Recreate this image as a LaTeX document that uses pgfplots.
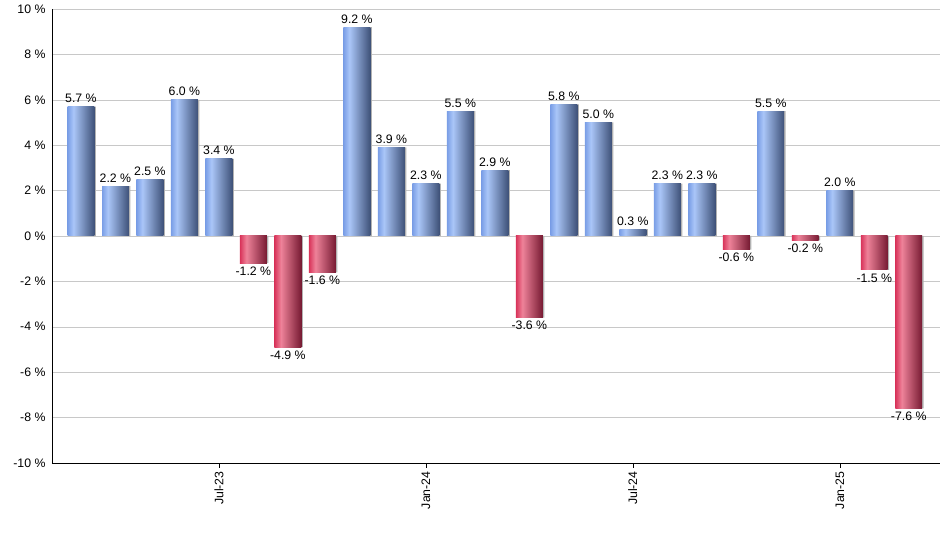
\documentclass[border=0pt]{standalone}
\usepackage{fontspec}
\setmainfont{Liberation Sans}
\usepackage{pgfplots}
\usepackage{pgfplotstable}
\pgfplotsset{compat=1.18}

\definecolor{bl1}{HTML}{7A9EE6}
\definecolor{bl2}{HTML}{AAC6F8}
\definecolor{bl3}{HTML}{3E5178}
\definecolor{rd1}{HTML}{D8345A}
\definecolor{rd2}{HTML}{EE8299}
\definecolor{rd3}{HTML}{761A32}
\definecolor{gridgray}{HTML}{C8C8C8}

\pgfdeclarehorizontalshading{barblue}{100bp}{%
  color(0bp)=(bl1); color(25bp)=(bl1); color(36bp)=(bl2);
  color(75bp)=(bl3); color(100bp)=(bl3)}
\pgfdeclarehorizontalshading{barred}{100bp}{%
  color(0bp)=(rd1); color(25bp)=(rd1); color(37bp)=(rd2);
  color(75bp)=(rd3); color(100bp)=(rd3)}

% monthly returns in %, x = month index (0 = Mar-23, 24 = Mar-25)
\pgfplotstableread{
x y
0 5.7
1 2.2
2 2.5
3 6.0
4 3.4
8 9.2
9 3.9
10 2.3
11 5.5
12 2.9
14 5.8
15 5.0
16 0.3
17 2.3
18 2.3
20 5.5
22 2.0
}\posdata
\pgfplotstableread{
x y
5 -1.2
6 -4.9
7 -1.6
13 -3.6
19 -0.6
21 -0.2
23 -1.5
24 -7.6
}\negdata
\pgfplotstablegetrowsof{\posdata}
\pgfmathtruncatemacro\lastpos{\pgfplotsretval-1}
\pgfplotstablegetrowsof{\negdata}
\pgfmathtruncatemacro\lastneg{\pgfplotsretval-1}

\begin{document}
\begin{tikzpicture}[font=\fontsize{12.3}{14}\selectfont]
\begin{axis}[
    scale only axis,
    width=888pt,
    height=454pt,
    ybar,
    bar width=0.78,
    bar shift=0pt,
    xmin=-0.84, xmax=24.9,
    ymin=-10, ymax=10,
    ytick={-10,-8,...,10},
    yticklabel={\pgfmathprintnumber{\tick}~\%},
    yticklabel style={xshift=2pt},
    xtick={4,10,16,22},
    xticklabels={Jul-23, Jan-24, Jul-24, Jan-25},
    xticklabel style={rotate=90, anchor=east},
    x tick style={black, thin},
    major tick length=5pt,
    y tick style={draw=none},
    tick align=outside,
    axis x line*=bottom,
    axis y line*=left,
    axis line style={black, thin},
    ymajorgrids=true,
    grid style={gridgray, thin},
    /pgf/number format/assume math mode=true,
    every node near coord/.append style={black, font=\fontsize{12.3}{14}\selectfont, inner sep=3.5pt},
    clip=false,
]
% shadows
\addplot[draw=none, fill=black!30, bar shift=1.5pt, forget plot] table[x=x, y=y] {\posdata};
\addplot[draw=none, fill=black!30, bar shift=1.5pt, forget plot] table[x=x, y=y] {\negdata};
% one plot per bar so each bar gets its own shading
\pgfplotsinvokeforeach{0,...,\lastpos}{
  \addplot[draw=none, shade, shading=barblue,
      restrict expr to domain={\coordindex}{#1:#1},
      nodes near coords={\pgfmathprintnumber[fixed,fixed zerofill,precision=1]{\pgfplotspointmeta}~\%}]
      table[x=x, y=y] {\posdata};
}
\pgfplotsinvokeforeach{0,...,\lastneg}{
  \addplot[draw=none, shade, shading=barred,
      restrict expr to domain={\coordindex}{#1:#1},
      nodes near coords={\pgfmathprintnumber[fixed,fixed zerofill,precision=1]{\pgfplotspointmeta}~\%}]
      table[x=x, y=y] {\negdata};
}
\end{axis}
\path ([shift={(-52pt,-87pt)}]current axis.south west)
    rectangle ([shift={(0pt,9pt)}]current axis.north east);
\end{tikzpicture}
\end{document}
